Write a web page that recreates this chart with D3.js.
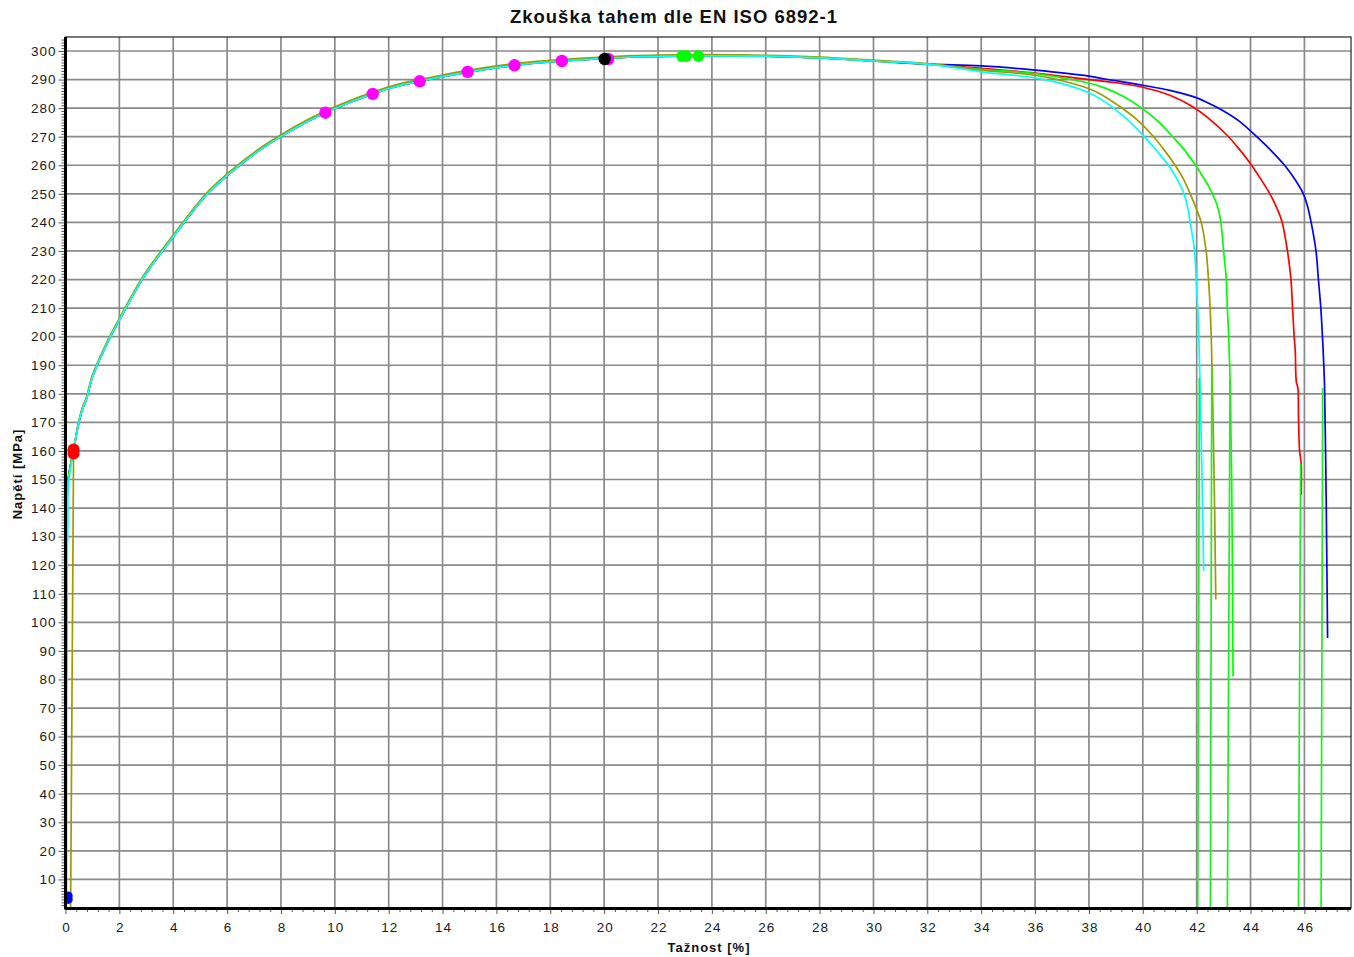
<!DOCTYPE html>
<html><head><meta charset="utf-8">
<script src="https://cdn.jsdelivr.net/npm/d3@7"></script>
<style>
html,body{margin:0;padding:0;background:#fff;}
text{font-family:"Liberation Sans",Arial,sans-serif;}
</style></head>
<body><svg id="c" width="1354" height="957"></svg>
<script>
// ---- data (strain %, stress MPa) ----
const title = "Zkouška tahem dle EN ISO 6892-1";
const xLabel = "Tažnost [%]";
const yLabel = "Napětí [MPa]";
const xTickValues = d3.range(0, 47, 2);
const yTickValues = d3.range(10, 301, 10);

const hardening = [[0.3,160],[0.46,168.4],[0.64,175],[0.77,178],[1.0,186],[1.5,196.8],[2.0,205.8],[2.87,220.4],[4.0,235],[5.23,249.6],[6.03,256.6],[7.21,265.3],[8.02,270.2],[9.0,275.4],[9.65,278.4],[10.5,281.8],[11.41,285],[12.2,287.4],[13.15,289.4],[14.0,291],[14.93,292.6],[16.0,294.2],[16.67,295],[17.5,295.8],[18.43,296.5],[20.0,297.4],[21.0,297.9],[22.0,298.1],[24.0,298.3],[26.0,298.2],[28.0,297.6],[30.0,296.5],[32.0,295.4]];
const hardeningOlive = [[0.3,160],[0.46,169],[0.64,175.6],[0.77,178.6],[1.0,186.6],[1.5,197.4],[2.0,206.4],[2.87,221],[4.0,235.6],[5.23,250.2],[6.03,257.2],[7.21,265.9],[8.02,270.8],[9.0,276],[9.65,279],[10.5,282.4],[11.41,285.6],[12.2,288],[13.15,290],[14.0,291.6],[14.93,293.2],[16.0,294.8],[16.67,295.6],[17.5,296.4],[18.43,297],[20.0,297.9],[21.0,298.4],[22.0,298.6],[24.0,298.7],[26.0,298.5],[28.0,297.9],[30.0,296.8],[32.0,295.6]];

const blueStart = [[0.02,0],[0.05,132],[0.1,150],[0.3,160]];
const blueTail = [[34,294.8],[36,293.3],[38,291.2],[38.6,290.2],[40,288],[41,286.2],[42,283.6],[42.6,281],[43,279],[43.6,275.3],[44.23,270],[44.8,264.8],[45.28,259.8],[45.65,255],[45.96,250],[46.12,245.5],[46.25,240],[46.43,230],[46.52,220],[46.61,210],[46.67,200],[46.72,190],[46.75,182],[46.8,150],[46.86,94.5]];
const redStart = [[0.02,0],[0.05,134],[0.1,150],[0.3,160]];
const redTail = [[34,293.9],[36,292.3],[38,290],[39,288.9],[40,287.3],[41,284.5],[41.76,281],[42.5,276],[43.12,270.6],[43.55,266],[43.98,260.8],[44.35,255.6],[44.72,250],[44.95,245.6],[45.16,240.5],[45.37,230],[45.5,220],[45.56,210],[45.62,200],[45.66,195],[45.7,184.2],[45.76,181.9],[45.78,172],[45.82,160.3],[45.88,155.6],[45.88,144.6]];
const greenStart = [[0.0,0],[0.04,135],[0.1,150],[0.3,160]];
const greenTail = [[34,293.6],[36,292.1],[37,290.6],[38,288.8],[38.6,287],[39.3,284],[39.96,280],[40.55,275.5],[41.08,270.3],[41.55,265.3],[41.9,260.8],[42.2,256.5],[42.45,252.5],[42.68,248],[42.82,244],[42.9,240],[43.0,230],[43.1,220],[43.14,210],[43.19,200],[43.24,185],[43.3,150],[43.35,81]];
const oliveStart = [[0.19,0],[0.3,160]];
const oliveTail = [[34,293.3],[36,291.5],[37,289.6],[38,286.8],[38.44,284.9],[39.2,280.2],[39.8,275.8],[40.4,270],[40.8,265.3],[41.2,260],[41.5,255.3],[41.76,250],[42.0,244.5],[42.17,240],[42.35,230],[42.44,220],[42.5,210],[42.54,200],[42.57,189],[42.6,175],[42.65,150],[42.71,108]];
const cyanStart = [[0.04,0],[0.06,120],[0.09,135],[0.1,148],[0.19,154],[0.3,160]];
const cyanTail = [[34,292.7],[36,290.6],[37,288.6],[38,285.4],[38.5,282.8],[39.0,279.4],[39.5,275.4],[40.02,270.4],[40.5,265.3],[40.95,260],[41.25,255.5],[41.51,250.5],[41.66,245.5],[41.76,240],[41.92,230],[41.98,220],[42.04,210],[42.08,200],[42.12,185],[42.2,150],[42.26,118]];

const fractureLines = [
  [[42.1,185.5],[42.04,0]],
  [[42.56,189.4],[42.51,0]],
  [[43.24,185],[43.14,0]],
  [[45.86,155.6],[45.78,0]],
  [[46.68,182],[46.62,0]]
];

const magentaPoints = [[9.65,278.4],[11.41,285],[13.15,289.4],[14.93,292.7],[16.67,295.0],[18.43,296.5],[20.15,297.2]];
const blackPoints = [[20.02,297.2]];
const greenPoints = [[22.89,298.2],[23.04,298.2],[23.5,298.2]];
const redPoints = [[0.3,159.1],[0.3,160.5]];
const bluePoints = [[0.1,3.0],[0.1,4.2]];

const seriesColors = {blue:"#0000ff", red:"#ff0000", green:"#00ff00", olive:"#a09a00", cyan:"#00ffff"};
const series = [
  {key:"blue", pts:[...blueStart, ...hardening, ...blueTail]},
  {key:"red", pts:[...redStart, ...hardening, ...redTail]},
  {key:"green", pts:[...greenStart, ...hardening, ...greenTail]},
  {key:"olive", pts:[...oliveStart, ...hardeningOlive, ...oliveTail]},
  {key:"cyan", pts:[...cyanStart, ...hardening, ...cyanTail]}
];

// ---- layout ----
const svg = d3.select("#c");
const L = 65.5, R = 1351, T = 37, B = 908;
const x = d3.scaleLinear().domain([0, 47.73]).range([L, R]);
const y = d3.scaleLinear().domain([0, 304.9]).range([B, T]);

svg.append("defs").append("clipPath").attr("id","clip")
  .append("rect").attr("x",L).attr("y",T).attr("width",R-L).attr("height",B-T);

// grid
const grid = svg.append("g").attr("stroke","#8a8a8a").attr("stroke-width",1.7);
xTickValues.filter(d=>d>0).forEach(d=>{
  grid.append("line").attr("x1",x(d)).attr("x2",x(d)).attr("y1",T).attr("y2",B);
});
yTickValues.forEach(d=>{
  grid.append("line").attr("x1",L).attr("x2",R).attr("y1",y(d)).attr("y2",y(d));
});

// border (top/right thin)
svg.append("rect").attr("x",L).attr("y",T).attr("width",R-L).attr("height",B-T)
  .attr("fill","none").attr("stroke","#222").attr("stroke-width",1.2);

// curves
const line = d3.line().x(d=>x(d[0])).y(d=>y(d[1])).curve(d3.curveCatmullRom.alpha(0.5));
const straight = d3.line().x(d=>x(d[0])).y(d=>y(d[1]));
const plot = svg.append("g").attr("clip-path","url(#clip)");
series.forEach(s=>{
  plot.append("path").attr("d",line(s.pts)).attr("fill","none")
    .attr("stroke",seriesColors[s.key]).attr("stroke-width",1.7).attr("stroke-linejoin","round");
});
fractureLines.forEach(f=>{
  plot.append("path").attr("d",straight(f)).attr("fill","none")
    .attr("stroke","#1cf01c").attr("stroke-width",1.7);
});

// markers
function dots(arr, col, r){
  plot.selectAll(null).data(arr).enter().append("circle")
    .attr("cx",d=>x(d[0])).attr("cy",d=>y(d[1])).attr("r",r).attr("fill",col);
}
dots(magentaPoints,"#ff00ff",6.2);
dots(blackPoints,"#000000",6.2);
dots(greenPoints,"#00ff00",5.8);
dots(redPoints,"#ff0000",6);
dots(bluePoints,"#0000ff",4.5);

// axes
const yAxis = svg.append("g").attr("transform",`translate(${L},0)`);
yAxis.call(d3.axisLeft(y).tickValues(yTickValues).tickSize(7).tickPadding(2).tickFormat(d3.format("d")));
const yMinor = svg.append("g").attr("transform",`translate(${L},0)`);
yMinor.call(d3.axisLeft(y).tickValues(d3.range(1,305,1).filter(v=>v%10)).tickSize(4).tickFormat(""));
const xAxis = svg.append("g").attr("transform",`translate(0,${B})`);
xAxis.call(d3.axisBottom(x).tickValues(xTickValues).tickSize(6).tickPadding(8).tickFormat(d3.format("d")));
const xMinor = svg.append("g").attr("transform",`translate(0,${B})`);
xMinor.call(d3.axisBottom(x).tickValues(d3.range(0.4,47.7,0.4).filter(v=>Math.abs(v/2-Math.round(v/2))>0.01)).tickSize(4).tickFormat(""));
[yAxis,yMinor,xAxis,xMinor].forEach(a=>{
  a.select(".domain").remove();
  a.selectAll(".tick line").attr("stroke","#555").attr("stroke-width",1);
  a.selectAll("text").attr("font-size",13.5).attr("fill","#1a1a1a").attr("letter-spacing","1px")
    .attr("font-family","'Liberation Sans',Arial,sans-serif");
});
xAxis.selectAll("text").attr("dx","0.5px");
// thick axis lines
svg.append("line").attr("x1",L).attr("x2",L).attr("y1",T).attr("y2",B+1.5)
  .attr("stroke","#000").attr("stroke-width",3);
svg.append("line").attr("x1",L).attr("x2",R).attr("y1",B+0.5).attr("y2",B+0.5)
  .attr("stroke","#000").attr("stroke-width",3);

// titles
svg.append("text").attr("x",674).attr("y",23).attr("text-anchor","middle").attr("letter-spacing","1px")
  .attr("font-size",18.5).attr("font-weight","bold").attr("fill","#111").text(title);
svg.append("text").attr("x",709).attr("y",952).attr("text-anchor","middle").attr("letter-spacing","1px")
  .attr("font-size",13).attr("font-weight","bold").attr("fill","#111").text(xLabel);
svg.append("text").attr("transform","translate(22,474) rotate(-90)").attr("text-anchor","middle").attr("letter-spacing","1px")
  .attr("font-size",13).attr("font-weight","bold").attr("fill","#111").text(yLabel);
</script></body></html>
